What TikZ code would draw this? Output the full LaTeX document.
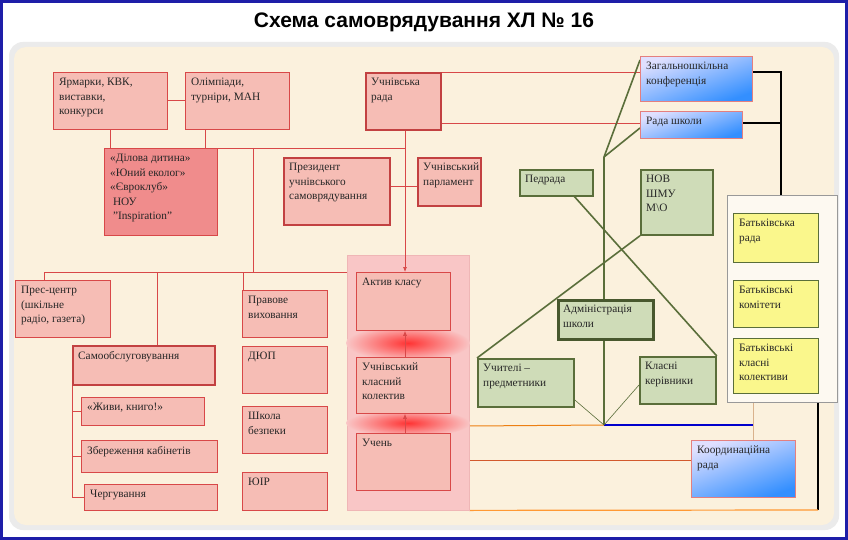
\documentclass[tikz,border=0pt]{standalone}
\usepackage{fontspec}
\setmainfont{Liberation Serif}
\newfontfamily\titlefont{Liberation Sans}
\usetikzlibrary{arrows.meta}
\pgfdeclarelayer{bg}\pgfdeclarelayer{back}
\pgfsetlayers{back,bg,main}
\definecolor{cream}{HTML}{FBF1DD}
\definecolor{pinkf}{HTML}{F6BDB5}
\definecolor{pinkd}{HTML}{F08C8C}
\definecolor{redb}{HTML}{D84848}
\definecolor{panelp}{HTML}{F9C6C6}
\definecolor{greenf}{HTML}{CFDCB8}
\definecolor{greenb}{HTML}{5A6E3A}
\definecolor{yel}{HTML}{FAF78C}
\definecolor{framebl}{HTML}{1E1EA8}
\tikzset{
 x=1pt,y=-1pt,
 boxbase/.style={anchor=north west,inner sep=0pt,draw},
 pk/.style={boxbase,fill=pinkf,draw=redb,line width=0.8pt},
 pkt/.style={boxbase,fill=pinkf,draw=redb!90!black,line width=1.8pt},
 pkd/.style={boxbase,fill=pinkd,draw=redb,line width=0.8pt},
 gr/.style={boxbase,fill=greenf,draw=greenb,line width=1.8pt},
 grt/.style={boxbase,fill=greenf,draw=greenb!80!black,line width=2.6pt},
 yl/.style={boxbase,fill=yel,draw=greenb,line width=0.8pt},
 bl/.style={boxbase,draw=redb!70,line width=0.8pt,shading=axis,top color=blue!12,bottom color=blue!55!cyan!80,shading angle=20},
 lbl/.style={anchor=north west,align=left,inner sep=0pt,font=\fontsize{11.3}{14.5}\selectfont,text=black!85},
 rl/.style={draw=redb,line width=0.7pt},
 gl/.style={draw=greenb,line width=1.6pt},
 glthin/.style={draw=greenb,line width=0.6pt},
}
\newcommand{\bx}[7]{\node[#6,minimum width=#4pt,minimum height=#5pt] (#1) at (#2,#3) {};
 \node[lbl] (#1-t) at ([xshift=6pt,yshift=-6pt]#1.north west) {#7};}
\begin{document}
\begin{tikzpicture}
\useasboundingbox (0,0) rectangle (848,540);
\begin{pgfonlayer}{back}
\fill[framebl] (0,0) rectangle (848,540);
\fill[white] (3,3) rectangle (845,537);
\fill[black!8,rounded corners=14pt] (9,42) rectangle (839,530);
\fill[cream,rounded corners=12pt] (14,47) rectangle (834,525);
\end{pgfonlayer}
\node[font=\titlefont\bfseries\fontsize{21}{24}\selectfont] (title) at (424,22) {Схема самоврядування ХЛ № 16};
% pink panel
\node[boxbase,fill=panelp,draw=redb!40,minimum width=122pt,minimum height=255pt] (panel) at (347,255) {};
\shade[inner color=red!80,outer color=panelp] (408,343) ellipse (62 and 18);
\shade[inner color=red!80,outer color=panelp] (408,423) ellipse (62 and 14);
% parents panel
\node[boxbase,fill=white!60!cream,draw=black!40,minimum width=110pt,minimum height=207pt] (ppanel) at (727,195) {};
% left red boxes
\bx{yarm}{53}{72}{114}{57}{pk}{Ярмарки, КВК,\\виставки,\\конкурси}
\bx{olimp}{185}{72}{104}{57}{pk}{Олімпіади,\\турніри, МАН}
\bx{urada}{365}{72}{75}{57}{pkt}{Учнівська\\рада}
\bx{dd}{104}{148}{113}{87}{pkd}{«Ділова дитина»\\«Юний еколог»\\«Євроклуб»\\\ НОУ\\\ "Inspiration"}
\bx{prez}{283}{157}{106}{67}{pkt}{Президент\\учнівського\\самоврядування}
\bx{parl}{417}{157}{63}{48}{pkt}{Учнівський\\парламент}
\bx{pres}{15}{280}{95}{57}{pk}{Прес-центр\\(шкільне\\радіо, газета)}
\bx{samo}{72}{345}{142}{39}{pkt}{Самообслуговування}
\bx{zhyvy}{81}{397}{123}{28}{pk}{«Живи, книго!»}
\bx{zber}{81}{440}{136}{32}{pk}{Збереження кабінетів}
\bx{cherg}{84}{484}{133}{26}{pk}{Чергування}
\bx{prav}{242}{290}{85}{47}{pk}{Правове\\виховання}
\bx{dyup}{242}{346}{85}{47}{pk}{ДЮП}
\bx{shkola}{242}{406}{85}{47}{pk}{Школа\\безпеки}
\bx{yuir}{242}{472}{85}{38}{pk}{ЮІР}
\bx{aktyv}{356}{272}{94}{58}{pk}{Актив класу}
\bx{kolek}{356}{357}{94}{56}{pk}{Учнівський\\класний\\колектив}
\bx{uchen}{356}{433}{94}{57}{pk}{Учень}
% blue
\bx{zahal}{640}{56}{112}{45}{bl}{Загальношкільна\\конференція}
\bx{rshk}{640}{111}{102}{27}{bl}{Рада школи}
\bx{koord}{691}{440}{104}{57}{bl}{Координаційна\\рада}
% green
\bx{pedr}{519}{169}{73}{26}{gr}{Педрада}
\bx{nov}{640}{169}{72}{65}{gr}{НОВ\\ШМУ\\М\textbackslash О}
\bx{adm}{557}{299}{95}{39}{grt}{Адміністрація\\школи}
\bx{uchyt}{477}{358}{96}{48}{gr}{Учителі –\\предметники}
\bx{klas}{639}{356}{76}{47}{gr}{Класні\\керівники}
% yellow
\bx{brada}{733}{213}{85}{49}{yl}{Батьківська\\рада}
\bx{bkom}{733}{280}{85}{47}{yl}{Батьківські\\комітети}
\bx{bkl}{733}{338}{85}{55}{yl}{Батьківські\\класні\\колективи}
% coordinates
\coordinate (hA) at (110,148); \coordinate (hB) at (405,148);
\coordinate (hC) at (44,272); \coordinate (hD) at (347,272);
\coordinate (gtop) at (604,157); \coordinate (gx) at (604,236); \coordinate (gbot) at (604,425);
\begin{pgfonlayer}{bg}
% red connectors
\draw[rl] (yarm.east|-0,100) -- (olimp.west|-0,100);
\draw[rl] (hA) -- (hB);
\draw[rl] (110,129) -- (hA);
\draw[rl] (205,129) -- (205,148);
\draw[rl] (prez.east|-0,186) -- (parl.west|-0,186);
\draw[rl] (253,148) -- (253,272);
\draw[rl] (hC) -- (hD);
\draw[rl] (44,272) -- (pres.north-|44,0);
\draw[rl] (157,272) -- (samo.north-|157,0);
\draw[rl] (243,272) -- (prav.north-|243,0);
\draw[rl] (72,384) -- (72,497);
\draw[rl] (72,411) -- (zhyvy.west|-0,411);
\draw[rl] (72,456) -- (zber.west|-0,456);
\draw[rl] (72,497) -- (cherg.west|-0,497);
\draw[rl] (urada.east|-0,72) -- (zahal.west|-0,72);
\draw[rl] (urada.east|-0,123) -- (rshk.west|-0,123);
% black
\draw[line width=1.2pt] (zahal.east|-0,72) -- (781,72) -- (781,195);
\draw[line width=1.2pt] (rshk.east|-0,123) -- (781,123);
\draw[line width=1.2pt] (818,402) -- (818,510);
\draw[draw=orange!80,line width=1.2pt] (panel.south east) -- (818,510);
\draw[draw=brown!70!red,line width=1pt] (panel.east|-0,460) -- (koord.west|-0,460);
\draw[draw=orange!70!brown,line width=1pt] (panel.east|-0,426) -- (gbot);
\draw[draw=blue!80!black,line width=1.2pt] (gbot) -- (753,425);
\draw[draw=brown!60,line width=0.8pt] (ppanel.south-|753,0) -- (koord.north-|753,0);
% green
\draw[gl] (gtop) -- (gbot);
\draw[gl] (gtop) -- (zahal.west|-0,60);
\draw[gl] (gtop) -- (rshk.west|-0,128);
\draw[gl] (573,195) -- (klas.north east);
\draw[gl] (nov.south west) -- (uchyt.north west);
\draw[glthin] (uchyt.east|-0,400) -- (gbot);
\draw[glthin] (klas.west|-0,385) -- (gbot);
\end{pgfonlayer}
\draw[rl,-{Latex[length=5pt,width=4pt]}] (urada.south-|405,0) -- (aktyv.north-|405,0);
\draw[rl,-{Latex[length=5pt,width=4pt]}] (uchen.north-|405,0) -- (kolek.south-|405,0);
\draw[rl,-{Latex[length=5pt,width=4pt]}] (kolek.north-|405,0) -- (aktyv.south-|405,0);
\end{tikzpicture}
\end{document}
